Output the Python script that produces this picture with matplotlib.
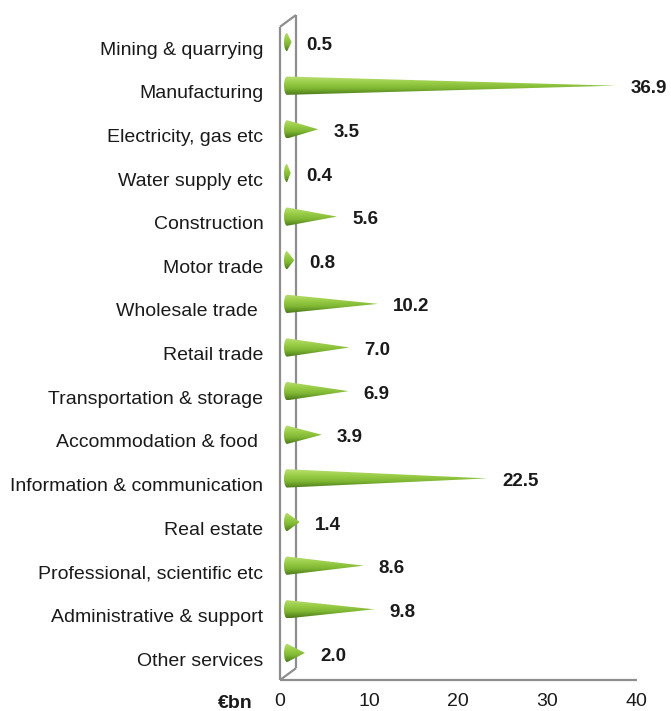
import matplotlib

matplotlib.use("Agg")
import matplotlib.pyplot as plt
import numpy as np
from matplotlib.colors import LinearSegmentedColormap
from matplotlib.patches import Polygon

plt.rcParams["font.family"] = ["Liberation Sans", "DejaVu Sans"]

SECTORS = [
    "Mining & quarrying",
    "Manufacturing",
    "Electricity, gas etc",
    "Water supply etc",
    "Construction",
    "Motor trade",
    "Wholesale trade ",
    "Retail trade",
    "Transportation & storage",
    "Accommodation & food ",
    "Information & communication",
    "Real estate",
    "Professional, scientific etc",
    "Administrative & support",
    "Other services",
]
VALUES = [0.5, 36.9, 3.5, 0.4, 5.6, 0.8, 10.2, 7.0, 6.9, 3.9, 22.5, 1.4, 8.6, 9.8, 2.0]
TICKS = [0, 10, 20, 30, 40]

DEPTH_X = 1.8  # wall depth in data units
DEPTH_Y = 0.27
BASE_X = 0.8
HALF_H = 0.21
ARC_RX = 0.35
CONE_SHIFT = 0.14  # cones sit a bit above the category label
LABEL_SHIFT = 0.07
WALL = "#8e8e8e"
TXT = "#1a1a1a"
FS = 14

green = LinearSegmentedColormap.from_list(
    "cone", ["#b8de70", "#9bce48", "#7db532", "#4c7a1b"]
)


def cone(ax, y, value):
    theta = np.linspace(np.pi / 2, 3 * np.pi / 2, 30)
    xs = BASE_X + ARC_RX * np.cos(theta)
    ys = y - HALF_H * np.sin(theta)
    pts = np.column_stack([xs, ys])
    pts = np.vstack([pts, [BASE_X + value, y]])
    poly = Polygon(pts, closed=True, facecolor="none", edgecolor="none")
    ax.add_patch(poly)
    grad = np.linspace(0, 1, 64).reshape(-1, 1)
    im = ax.imshow(
        grad,
        cmap=green,
        aspect="auto",
        extent=[BASE_X - ARC_RX, BASE_X + value, y + HALF_H, y - HALF_H],
        origin="upper",
        zorder=3,
        interpolation="bilinear",
    )
    im.set_clip_path(poly)


def plot():
    fig = plt.figure(figsize=(6.71, 7.11), dpi=100)
    ax = fig.add_axes([280 / 671, 1 - 680 / 711, 356 / 671, 665 / 711])
    ybot, ytop = 14.48, -0.76
    for s in ax.spines.values():
        s.set_visible(False)

    # 3D-ish wall on the left and floor line
    kw = dict(color=WALL, lw=1.6, clip_on=False, zorder=2, solid_capstyle="butt")
    ax.plot([0, 0], [ybot, ytop + DEPTH_Y], **kw)
    ax.plot([DEPTH_X, DEPTH_X], [ybot - DEPTH_Y, ytop], **kw)
    ax.plot([0, DEPTH_X], [ytop + DEPTH_Y, ytop], **kw)
    ax.plot([0, DEPTH_X], [ybot, ybot - DEPTH_Y], **kw)
    ax.plot([0, 40.1], [ybot, ybot], **kw)

    for i, v in enumerate(VALUES):
        cone(ax, i - CONE_SHIFT, v)
        ax.text(BASE_X + v + 1.7, i - LABEL_SHIFT, f"{v:.1f}", ha="left",
                va="center", fontsize=13.5, fontweight="bold", color=TXT)
    ax.set_xlim(0, 40)
    ax.set_ylim(ybot, ytop)

    ax.set_yticks(range(len(SECTORS)))
    ax.set_yticklabels(SECTORS, fontsize=FS, color=TXT)
    ax.set_xticks(TICKS)
    ax.set_xticklabels([str(t) for t in TICKS], fontsize=FS, color=TXT)
    ax.tick_params(axis="both", length=0)
    ax.tick_params(axis="y", pad=12)
    ax.tick_params(axis="x", pad=9)
    ax.text(-3.1, ybot + 0.55, "€bn", ha="right", va="center",
            fontsize=FS, fontweight="bold", color=TXT)
    return fig


def main():
    fig = plot()
    fig.savefig("out.png", dpi=100)


if __name__ == "__main__":
    main()
